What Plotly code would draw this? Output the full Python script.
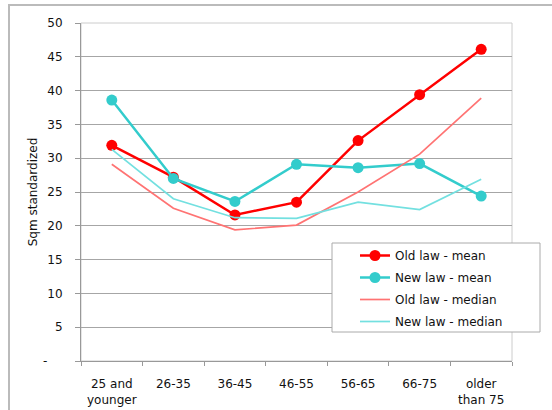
import plotly.graph_objects as go

categories = ["25 and<br>younger", "26-35", "36-45", "46-55", "56-65", "66-75", "older<br>than 75"]
old_mean = [31.9, 27.2, 21.6, 23.5, 32.6, 39.4, 46.1]
new_mean = [38.6, 27.0, 23.6, 29.1, 28.6, 29.2, 24.4]
old_median = [29.1, 22.6, 19.4, 20.1, 25.0, 30.6, 38.9]
new_median = [31.3, 24.0, 21.2, 21.1, 23.5, 22.4, 26.9]
y_ticks = [0, 5, 10, 15, 20, 25, 30, 35, 40, 45, 50]
y_ticktext = ["-\u00a0\u00a0\u00a0\u00a0"] + [str(v) for v in y_ticks[1:]]

RED = "#FF0000"
CYAN = "#33CCCC"
LRED = "#FF7373"
LCYAN = "#73E0E0"
FONT = "DejaVu Sans"
TXT = "#111111"

fig = go.Figure()
fig.add_trace(go.Scatter(x=categories, y=old_mean, name="Old law - mean", mode="lines+markers",
                         line=dict(color=RED, width=2.5), marker=dict(size=11, color=RED),
                         legendgroup="a"))
fig.add_trace(go.Scatter(x=categories, y=new_mean, name="New law - mean", mode="lines+markers",
                         line=dict(color=CYAN, width=2.5), marker=dict(size=11, color=CYAN),
                         legendgroup="b"))
fig.add_trace(go.Scatter(x=categories, y=old_median, name="Old law - median", mode="lines",
                         line=dict(color=LRED, width=1.7), legendgroup="c"))
fig.add_trace(go.Scatter(x=categories, y=new_median, name="New law - median", mode="lines",
                         line=dict(color=LCYAN, width=1.7), legendgroup="d"))

L, R, T, B = 81, 40, 23, 49
W, H = 552, 410
pw, ph = W - L - R, H - T - B

def px(x):
    return (x - L) / pw

def py(y):
    return (H - B - y) / ph

fig.update_layout(
    width=W, height=H,
    margin=dict(l=L, r=R, t=T, b=B, pad=0),
    paper_bgcolor="white", plot_bgcolor="white",
    font=dict(family=FONT, size=12, color=TXT),
    showlegend=True,
    legend=dict(x=px(355), y=py(241), xanchor="left", yanchor="top",
                bgcolor="rgba(0,0,0,0)", borderwidth=0,
                font=dict(family=FONT, size=12, color=TXT),
                traceorder="grouped", tracegroupgap=3),
    shapes=[
        dict(type="rect", xref="paper", yref="paper", x0=px(9), x1=px(575), y0=py(430), y1=py(5),
             line=dict(color="#BBBBBB", width=2), fillcolor="rgba(0,0,0,0)", layer="below"),
        dict(type="rect", xref="paper", yref="paper", x0=0, x1=1, y0=0, y1=1,
             line=dict(color="#CCCCCC", width=1), fillcolor="rgba(0,0,0,0)", layer="below"),
        dict(type="rect", xref="paper", yref="paper", x0=px(332), x1=px(540), y0=py(332), y1=py(243),
             line=dict(color="#AAAAAA", width=1), fillcolor="white", layer="above"),
    ],
)

fig.update_xaxes(
    type="category", range=[-0.5, 6.5], tickson="boundaries",
    showline=True, linecolor="#999999", linewidth=1,
    ticks="outside", ticklen=4, tickcolor="#999999",
    showgrid=False, zeroline=False, automargin=False,
    tickfont=dict(family=FONT, size=12, color=TXT),
    ticklabelstandoff=12,
)
fig.update_yaxes(
    range=[0, 50], tickvals=y_ticks, ticktext=y_ticktext,
    showline=True, linecolor="#999999", linewidth=1,
    ticks="outside", ticklen=5, tickcolor="#999999",
    showgrid=True, gridcolor="#A6A6A6", gridwidth=1, zeroline=False,
    tickfont=dict(family=FONT, size=12, color=TXT),
    ticklabelstandoff=10,
    title=dict(text="Sqm standardized", font=dict(family=FONT, size=12, color=TXT), standoff=2),
)

fig.write_html("out.html", config={"displayModeBar": False},
               post_script="document.body.style.margin='0';")
